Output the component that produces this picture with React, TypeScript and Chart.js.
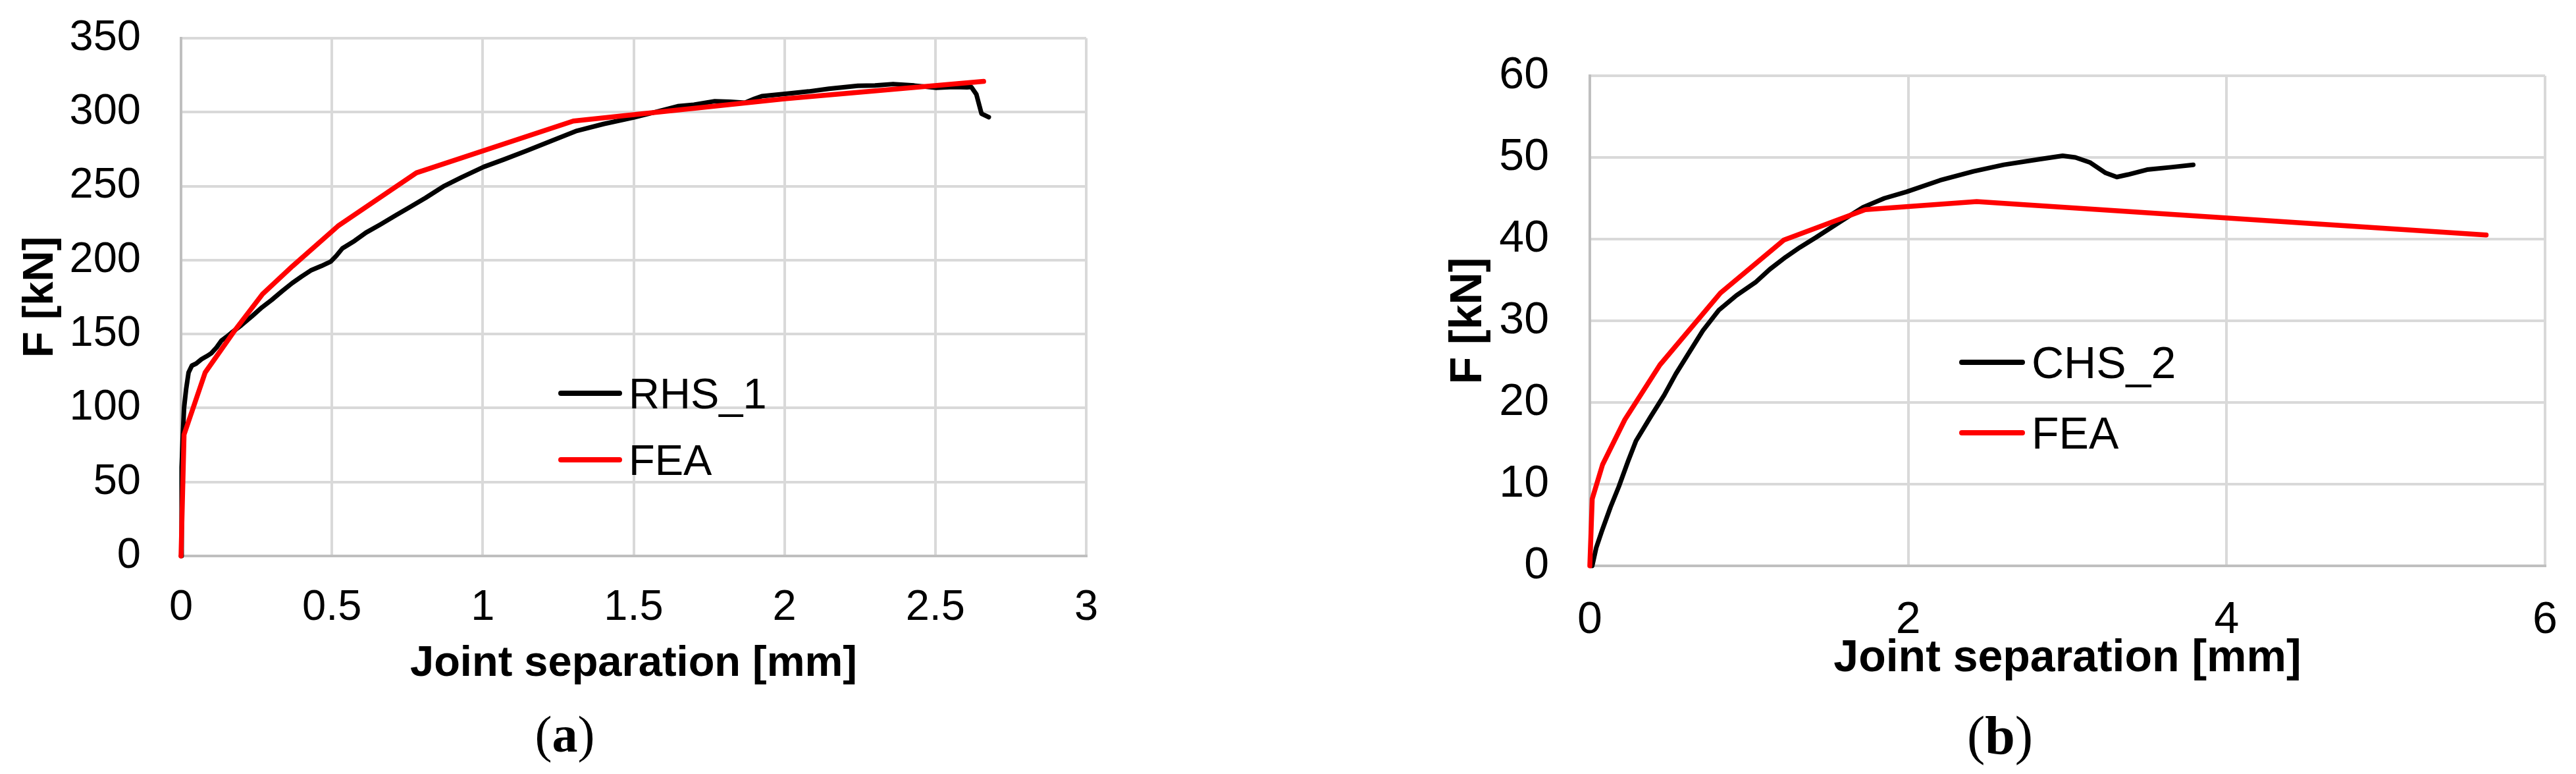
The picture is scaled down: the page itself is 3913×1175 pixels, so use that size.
import React, { useEffect, useRef } from 'react';
import { Chart, registerables } from 'chart.js';

Chart.register(...registerables);

// ---------- data: chart (a) ----------
const rhsX = [0, 0.002, 0.006, 0.01, 0.017, 0.025, 0.036, 0.05, 0.068, 0.085, 0.1, 0.118, 0.134, 0.15, 0.168, 0.2, 0.235, 0.268, 0.3, 0.335, 0.368, 0.4, 0.43, 0.465, 0.496, 0.515, 0.535, 0.575, 0.613, 0.66, 0.713, 0.76, 0.81, 0.869, 0.93, 1.003, 1.07, 1.146, 1.22, 1.312, 1.4, 1.5, 1.57, 1.646, 1.7, 1.769, 1.82, 1.869, 1.9, 1.925, 2.018, 2.08, 2.147, 2.243, 2.3, 2.36, 2.43, 2.503, 2.56, 2.605, 2.619, 2.636, 2.653, 2.677];
const rhsY = [0, 60, 82, 100, 113, 124, 128.7, 130, 133, 135, 137, 141, 145.6, 148, 151, 156, 162, 168, 173, 179, 184.4, 189, 193, 196, 199, 203, 208, 213, 218.6, 224, 230.4, 236, 242, 249.7, 256, 263, 268, 274, 280, 287.4, 292, 296.4, 300, 304, 305, 307.4, 307, 306.4, 309, 310.8, 312.7, 314, 315.8, 317.8, 318, 319, 318, 316.5, 317, 316.8, 317, 312, 299, 296.6];
const feaAX = [0, 0.01, 0.08, 0.18, 0.27, 0.37, 0.52, 0.78, 1.3, 1.6, 2.0, 2.66];
const feaAY = [0, 82, 124, 153, 177, 196, 223, 259, 294, 300.5, 309, 320.8];
const xTicksA = [0, 0.5, 1, 1.5, 2, 2.5, 3];
const yTicksA = [0, 50, 100, 150, 200, 250, 300, 350];
const seriesNamesA = ['RHS_1', 'FEA'];

// ---------- data: chart (b) ----------
const chsX = [0.015, 0.04, 0.078, 0.13, 0.182, 0.24, 0.29, 0.38, 0.467, 0.54, 0.62, 0.71, 0.81, 0.92, 1.04, 1.13, 1.23, 1.32, 1.42, 1.57, 1.716, 1.85, 1.99, 2.2, 2.41, 2.6, 2.83, 2.97, 3.05, 3.14, 3.24, 3.31, 3.38, 3.5, 3.65, 3.79];
const chsY = [0, 2.2, 4.4, 7.2, 9.7, 12.8, 15.3, 18.2, 20.9, 23.5, 26, 28.8, 31.3, 33.1, 34.7, 36.3, 37.8, 39, 40.2, 42.1, 43.9, 45, 45.8, 47.2, 48.3, 49.1, 49.8, 50.2, 50, 49.4, 48.1, 47.6, 47.9, 48.5, 48.8, 49.1];
const feaBX = [0, 0.015, 0.08, 0.22, 0.44, 0.82, 1.22, 1.73, 2.43, 5.63];
const feaBY = [0, 8.2, 12.4, 17.9, 24.6, 33.4, 39.9, 43.6, 44.6, 40.5];
const xTicksB = [0, 2, 4, 6];
const yTicksB = [0, 10, 20, 30, 40, 50, 60];
const seriesNamesB = ['CHS_2', 'FEA'];

const xTitle = 'Joint separation [mm]';
const yTitle = 'F [kN]';
const panelLabels = ['a', 'b'];

const SANS = '"Liberation Sans", Arial, sans-serif';
const SERIF = '"Liberation Serif", "Times New Roman", serif';

const inlineLegend = {
  id: 'inlineLegend',
  afterDatasetsDraw(chart: any, _args: any, opts: any) {
    const { ctx } = chart;
    ctx.save();
    chart.data.datasets.forEach((ds: any, i: number) => {
      const y = opts.ys[i];
      ctx.strokeStyle = ds.borderColor;
      ctx.lineWidth = opts.lineWidth;
      ctx.lineCap = 'round';
      ctx.beginPath();
      ctx.moveTo(opts.x0 + opts.lineWidth / 2, y);
      ctx.lineTo(opts.x0 + opts.len - opts.lineWidth / 2, y);
      ctx.stroke();
      ctx.fillStyle = '#000000';
      ctx.font = `${opts.fontSize}px ${SANS}`;
      ctx.textAlign = 'left';
      ctx.textBaseline = 'alphabetic';
      ctx.fillText(ds.label, opts.textX, y + (opts.fontSize * 0.716) / 2);
    });
    ctx.restore();
  },
};

type Geo = {
  width: number; height: number;
  area: { left: number; top: number; right: number; bottom: number };
  font: number;
  yTickPad: number; xTickPad: number; xTitlePadBottom: number; yTitlePadTop: number;
  legend: { x0: number; len: number; textX: number; ys: number[] };
};

function pts(xs: number[], ys: number[]) {
  return xs.map((x, i) => ({ x, y: ys[i] }));
}

function zeroPad(s: any) {
  s.paddingTop = 0;
  s.paddingBottom = 0;
  s.paddingLeft = 0;
  s.paddingRight = 0;
}

function makeConfig(
  names: string[], expX: number[], expY: number[], feaX: number[], feaY: number[],
  xTicks: number[], yTicks: number[], g: Geo
): any {
  const gridColor = '#d9d9d9';
  const axisColor = '#bfbfbf';
  return {
    type: 'scatter',
    data: {
      datasets: [
        {
          label: names[0], data: pts(expX, expY), showLine: true, borderColor: '#000000',
          backgroundColor: '#000000', borderWidth: 7, pointRadius: 0, tension: 0, order: 1,
          borderCapStyle: 'round', borderJoinStyle: 'round', clip: false,
        },
        {
          label: names[1], data: pts(feaX, feaY), showLine: true, borderColor: '#ff0000',
          backgroundColor: '#ff0000', borderWidth: 7.5, pointRadius: 0, tension: 0, order: 0,
          borderCapStyle: 'round', borderJoinStyle: 'round', clip: false,
        },
      ],
    },
    options: {
      responsive: false,
      animation: false,
      events: [],
      layout: {
        padding: { left: 0, top: g.area.top, right: g.width - g.area.right, bottom: 0 },
      },
      plugins: {
        legend: { display: false },
        tooltip: { enabled: false },
        inlineLegend: { ...g.legend, fontSize: g.font, lineWidth: 8 },
      },
      scales: {
        x: {
          type: 'linear', position: 'bottom',
          min: xTicks[0], max: xTicks[xTicks.length - 1],
          afterBuildTicks: (s: any) => { s.ticks = xTicks.map((v) => ({ value: v })); },
          afterFit: (s: any) => { s.height = g.height - g.area.bottom; zeroPad(s); },
          ticks: {
            autoSkip: false, maxRotation: 0, minRotation: 0, padding: g.xTickPad, color: '#000000',
            font: { family: SANS, size: g.font },
            callback: (v: any) => String(v),
          },
          grid: { color: gridColor, lineWidth: 4, drawTicks: false },
          border: { color: axisColor, width: 4 },
          title: {
            display: true, text: xTitle, color: '#000000',
            font: { family: SANS, size: g.font, weight: 'bold' },
            padding: { top: 0, bottom: g.xTitlePadBottom },
          },
        },
        y: {
          type: 'linear', position: 'left',
          min: yTicks[0], max: yTicks[yTicks.length - 1],
          afterBuildTicks: (s: any) => { s.ticks = yTicks.map((v) => ({ value: v })); },
          afterFit: (s: any) => { s.width = g.area.left; zeroPad(s); },
          ticks: {
            padding: g.yTickPad, color: '#000000',
            font: { family: SANS, size: g.font },
            callback: (v: any) => String(v),
          },
          grid: { color: gridColor, lineWidth: 4, drawTicks: false },
          border: { color: axisColor, width: 4 },
          title: {
            display: true, text: yTitle, color: '#000000',
            font: { family: SANS, size: g.font, weight: 'bold' },
            padding: { top: g.yTitlePadTop, bottom: 0 },
          },
        },
      },
    },
    plugins: [inlineLegend],
  };
}

const geoA: Geo = {
  width: 1957, height: 1175,
  area: { left: 275, top: 58, right: 1650, bottom: 844 },
  font: 65,
  yTickPad: 61, xTickPad: 40, xTitlePadBottom: 128, yTitlePadTop: 23,
  legend: { x0: 848, len: 97, textX: 955, ys: [597, 698] },
};

const geoB: Geo = {
  width: 1956, height: 1175,
  area: { left: 458, top: 115, right: 1909, bottom: 859 },
  font: 68,
  yTickPad: 62, xTickPad: 42, xTitlePadBottom: 134, yTitlePadTop: 233,
  legend: { x0: 1019, len: 100, textX: 1129, ys: [550, 657] },
};

function Panel(props: { cfg: any; left: number; g: Geo }) {
  const ref = useRef<HTMLCanvasElement | null>(null);
  useEffect(() => {
    if (!ref.current) return;
    const chart = new Chart(ref.current, props.cfg);
    return () => chart.destroy();
  }, []);
  return (
    <canvas
      ref={ref}
      width={props.g.width}
      height={props.g.height}
      style={{ position: 'absolute', left: props.left, top: 0, width: props.g.width, height: props.g.height }}
    />
  );
}

export default function App() {
  const cfgA = makeConfig(seriesNamesA, rhsX, rhsY, feaAX, feaAY, xTicksA, yTicksA, geoA);
  const cfgB = makeConfig(seriesNamesB, chsX, chsY, feaBX, feaBY, xTicksB, yTicksB, geoB);
  const labelStyle = (left: number, top: number, size: number): React.CSSProperties => ({
    position: 'absolute', left, top, transform: 'translate(-50%, -50%)',
    fontFamily: SERIF, fontSize: size, lineHeight: 1, whiteSpace: 'nowrap', color: '#000000',
  });
  return (
    <div style={{ position: 'absolute', left: 0, top: 0, width: 3913, height: 1175, background: '#ffffff', overflow: 'hidden' }}>
      <Panel cfg={cfgA} left={0} g={geoA} />
      <Panel cfg={cfgB} left={1957} g={geoB} />
      <div style={labelStyle(858, 1115, 78)}>(<b>{panelLabels[0]}</b>)</div>
      <div style={labelStyle(3038, 1117, 82)}>(<b>{panelLabels[1]}</b>)</div>
    </div>
  );
}
